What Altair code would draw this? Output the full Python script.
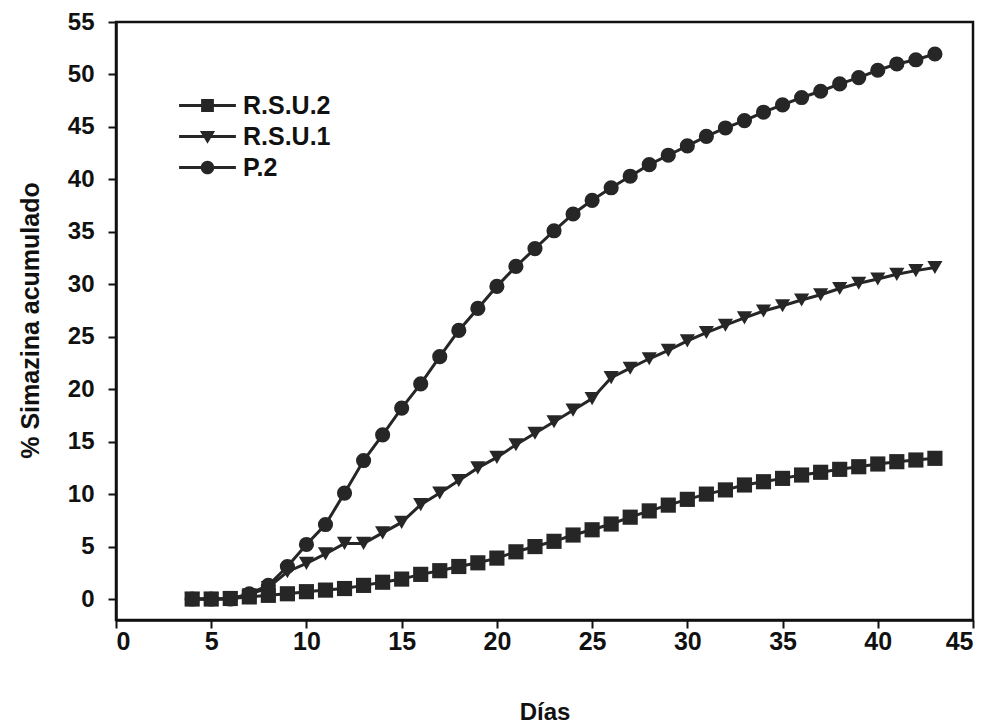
import altair as alt
import pandas as pd

# Days of sampling (common to the three series)
dias = list(range(4, 44))

# Cumulative % of simazine leached per treatment
rsu2 = [0, 0, 0.05, 0.2, 0.35, 0.5, 0.7, 0.85, 1.0, 1.3, 1.6, 1.9, 2.35, 2.7, 3.1, 3.45,
        3.9, 4.5, 5.0, 5.5, 6.1, 6.6, 7.15, 7.8, 8.4, 8.95, 9.5, 10.0, 10.4, 10.87,
        11.18, 11.5, 11.82, 12.08, 12.36, 12.61, 12.87, 13.09, 13.25, 13.41]
rsu1 = [0, 0, 0, 0.4, 1.1, 2.6, 3.4, 4.3, 5.3, 5.3, 6.3, 7.3, 9.0, 10.1, 11.3, 12.5,
        13.5, 14.7, 15.8, 16.9, 18.0, 19.1, 21.1, 22.0, 22.9, 23.7, 24.6, 25.4, 26.1,
        26.8, 27.45, 27.95, 28.5, 29.0, 29.6, 30.1, 30.5, 30.95, 31.3, 31.6]
p2 = [0, 0, 0, 0.5, 1.3, 3.1, 5.2, 7.1, 10.1, 13.2, 15.65, 18.2, 20.5, 23.1, 25.6,
      27.7, 29.8, 31.7, 33.4, 35.1, 36.7, 38.0, 39.2, 40.3, 41.4, 42.3, 43.2, 44.1,
      44.9, 45.6, 46.4, 47.1, 47.8, 48.4, 49.1, 49.7, 50.4, 51.0, 51.4, 51.95]

series = ["R.S.U.2", "R.S.U.1", "P.2"]
values = [rsu2, rsu1, p2]
markers = ["square", "triangle-down", "circle"]

rows = []
for name, vals in zip(series, values):
    for d, v in zip(dias, vals):
        rows.append({"Dias": d, "Simazina": v, "Serie": name})
df = pd.DataFrame(rows)

INK = "#262626"
FONT = "Liberation Sans"

x_enc = alt.X("Dias:Q",
              scale=alt.Scale(domain=[0, 45], nice=False, zero=False),
              axis=alt.Axis(values=list(range(0, 50, 5)), title="Días",
                            titleY=92, titleBaseline="middle"))
y_enc = alt.Y("Simazina:Q",
              scale=alt.Scale(domain=[-2, 55], nice=False, zero=False),
              axis=alt.Axis(values=list(range(0, 60, 5)), title="% Simazina acumulado",
                            titleX=-86, titleY=298, titleAngle=270,
                            titleBaseline="middle"))

base = alt.Chart(df)

# Legend symbols: a short filled bar (the line) with the marker in its middle,
# all sub-paths drawn clockwise so overlaps stay filled
STUB = "M-3.55,-0.19H3.55V0.19H-3.55Z"
leg_paths = [
    STUB + "M-0.8,-0.8H0.8V0.8H-0.8Z",
    STUB + "M-0.95,-0.7H0.95L0,0.9Z",
    STUB + "M-0.85,0A0.85,0.85 0 1,1 0.85,0A0.85,0.85 0 1,1 -0.85,0Z",
]
legend_layer = base.mark_point(filled=True, color=INK, opacity=0).encode(
    x=x_enc, y=y_enc,
    shape=alt.Shape("Serie:N",
                    scale=alt.Scale(domain=series, range=leg_paths),
                    legend=alt.Legend(title=None, orient="none",
                                      legendX=79, legendY=71,
                                      symbolSize=256, symbolOpacity=1,
                                      symbolFillColor=INK, symbolStrokeColor=INK,
                                      symbolStrokeWidth=0,
                                      labelFont=FONT, labelFontWeight="bold",
                                      labelFontSize=25, labelColor="#111",
                                      labelOffset=23, rowPadding=5)),
)

lines = base.mark_line(color=INK, strokeWidth=3).encode(
    x=x_enc, y=y_enc, detail="Serie:N"
)

# One marker layer per series, each with its own fixed symbol
point_layers = [
    base.transform_filter(alt.datum.Serie == name)
    .mark_point(filled=True, color=INK, opacity=1, size=230, shape=mk)
    .encode(x=x_enc, y=y_enc)
    for name, mk in zip(series, markers)
]

chart = alt.layer(legend_layer, lines, *point_layers).properties(
    width=857, height=598,
    background="white",
    autosize=alt.AutoSizeParams(type="none"),
    padding={"left": 116, "top": 22, "right": 21, "bottom": 108},
).configure_view(
    stroke="#111", strokeWidth=2.5
).configure_axis(
    domainColor="#111", domainWidth=2.5, tickColor="#111", tickWidth=2,
    tickSize=8, grid=False,
    labelFont=FONT, labelFontWeight="bold", labelColor="#111",
    titleFont=FONT, titleFontWeight="bold", titleColor="#111",
).configure_axisX(
    labelPadding=1, labelFontSize=25, titleFontSize=24
).configure_axisY(
    labelPadding=14, labelFontSize=24, titleFontSize=25
)

chart.save("out.html", embed_options={"renderer": "svg", "actions": False})
